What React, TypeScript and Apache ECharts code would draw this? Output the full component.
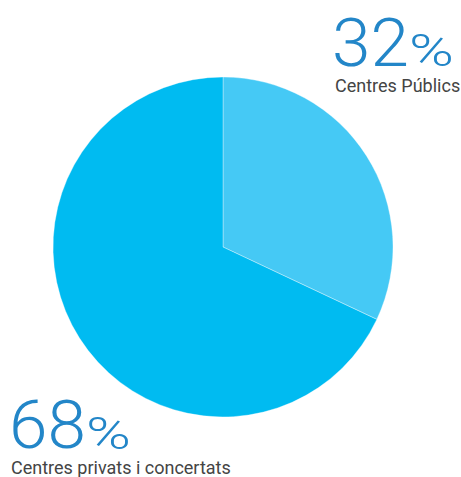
import React, { useEffect, useRef } from "react";
import * as echarts from "echarts";

const categories = ["Centres Públics", "Centres privats i concertats"];
const values = [32, 68];
const colors = ["#45c9f5", "#00bbf1"];

export default function App() {
  const ref = useRef<HTMLDivElement>(null);
  useEffect(() => {
    document.body.style.margin = "0";
    const chart = echarts.init(ref.current!, null, { renderer: "svg" });
    const numColor = "#2386c8";
    const font = "Roboto";
    const numStyle = (t: string) => ({
      text: t, fontSize: 66, fontFamily: font, fontWeight: 300, fill: numColor, verticalAlign: "middle", align: "left",
    });
    const pctStyle = {
      text: "%", fontSize: 45, fontFamily: font, fontWeight: 300, fill: numColor, verticalAlign: "middle", align: "left",
    };
    const nameStyle = (t: string) => ({
      text: t, fontSize: 18, fontFamily: font, fill: "#444444", verticalAlign: "middle", align: "left",
    });
    chart.setOption({
      animation: false,
      backgroundColor: "#ffffff",
      series: [
        {
          type: "pie",
          center: [223, 247],
          radius: 170,
          startAngle: 90,
          clockwise: true,
          label: { show: false },
          labelLine: { show: false },
          emphasis: { disabled: true },
          itemStyle: { borderColor: "rgba(255,255,255,0.35)", borderWidth: 1 },
          data: categories.map((c, i) => ({
            name: c,
            value: values[i],
            itemStyle: { color: colors[i] },
          })),
        },
      ],
      graphic: [
        { type: "text", x: 332, y: 43.5, scaleX: 1.05, style: numStyle(String(values[0])) },
        { type: "text", x: 409, y: 50.5, scaleX: 1.35, style: pctStyle },
        { type: "text", x: 335, y: 85, style: nameStyle(categories[0]) },
        { type: "text", x: 9, y: 426, scaleX: 1.05, style: numStyle(String(values[1])) },
        { type: "text", x: 86, y: 433.5, scaleX: 1.35, style: pctStyle },
        { type: "text", x: 11, y: 467, style: nameStyle(categories[1]) },
      ],
    });
    return () => chart.dispose();
  }, []);
  return <div ref={ref} style={{ width: 461, height: 477 }} />;
}
